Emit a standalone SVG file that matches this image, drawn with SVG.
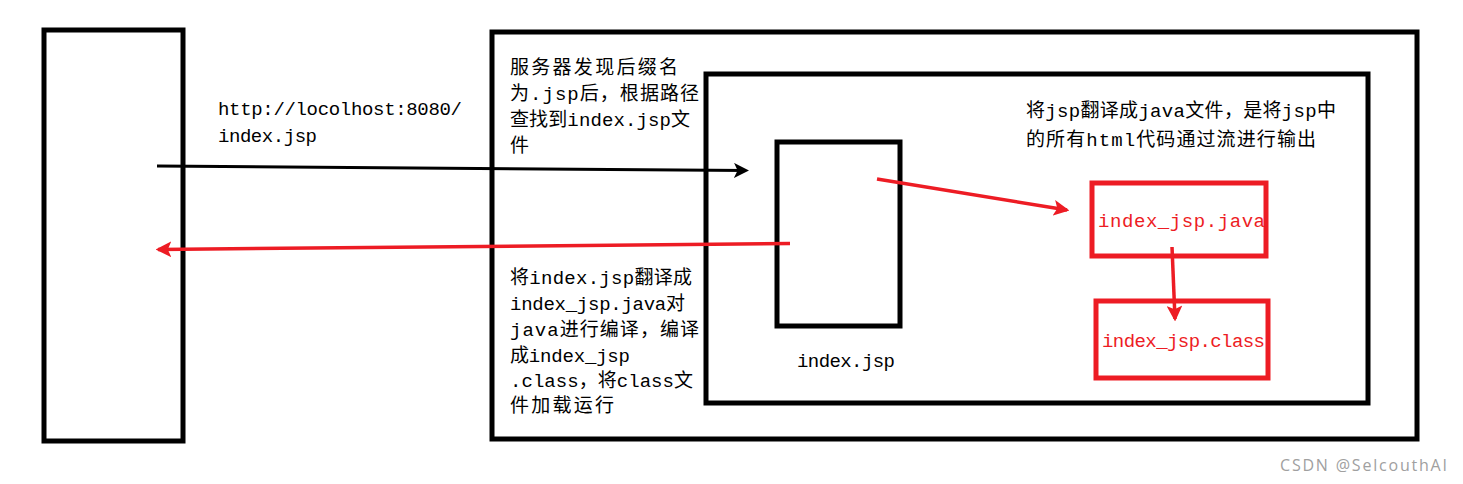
<svg xmlns="http://www.w3.org/2000/svg" width="1463" height="484" viewBox="0 0 1463 484">
<style>
.box{fill:none;stroke:#000;stroke-width:5}
.rbox{fill:none;stroke:#ed1c24;stroke-width:5}
.t{font-family:"Liberation Mono","Noto Sans CJK SC",monospace;font-size:19px;fill:#000}
.r{fill:#ed1c24}
.wm{font-family:"Open Sans","Noto Sans",sans-serif;font-size:16px;fill:#a0a0a0}
</style>
<defs>
<marker id="ab" markerWidth="5" markerHeight="5" refX="4" refY="2.5" orient="auto" markerUnits="strokeWidth">
<path d="M0,0 L5,2.5 L0,5 L1.2,2.5 Z" fill="#000"/>
</marker>
<marker id="ar" markerWidth="4.5" markerHeight="4.5" refX="3.8" refY="2.25" orient="auto" markerUnits="strokeWidth">
<path d="M0,0 L4.5,2.25 L0,4.5 L1,2.25 Z" fill="#ed1c24"/>
</marker>
</defs>
<rect width="1463" height="484" fill="#fff"/>
<g id="browser"><rect class="box" x="44" y="30" width="139" height="411"/></g>
<g id="server">
<rect class="box" x="492" y="32" width="925" height="407"/>
<text class="t" x="510" y="74" textLength="168">服务器发现后缀名</text>
<text class="t" x="510" y="100" textLength="189">为.jsp后，根据路径</text>
<text class="t" x="510" y="126" textLength="180">查找到index.jsp文</text>
<text class="t" x="510" y="152">件</text>
<text class="t" x="510" y="284" textLength="182">将index.jsp翻译成</text>
<text class="t" x="510" y="310" textLength="175">index_jsp.java对</text>
<text class="t" x="510" y="336" textLength="189">java进行编译，编译</text>
<text class="t" x="510" y="362" textLength="120">成index_jsp</text>
<text class="t" x="510" y="387" textLength="183">.class，将class文</text>
<text class="t" x="510" y="412" textLength="104">件加载运行</text>
</g>
<g id="container">
<rect class="box" x="706" y="74" width="662" height="329"/>
<text class="t" x="1026" y="117" textLength="310">将jsp翻译成java文件，是将jsp中</text>
<text class="t" x="1026" y="146" textLength="290">的所有html代码通过流进行输出</text>
</g>
<g id="indexjsp">
<rect class="box" x="777" y="142" width="123" height="184"/>
<text class="t" x="797" y="367" textLength="98">index.jsp</text>
</g>
<g id="javafile">
<rect class="rbox" x="1092" y="183" width="174" height="73"/>
<text class="t r" x="1098" y="227" textLength="167">index_jsp.java</text>
</g>
<g id="classfile">
<rect class="rbox" x="1096" y="301" width="172" height="77"/>
<text class="t r" x="1102" y="347" textLength="163">index_jsp.class</text>
</g>
<g id="request-label">
<text class="t" x="218" y="115" textLength="244">http://locolhost:8080/</text>
<text class="t" x="218" y="142" textLength="99">index.jsp</text>
</g>
<g id="connectors">
<line x1="157" y1="166" x2="746" y2="170.5" stroke="#000" stroke-width="3" marker-end="url(#ab)"/>
<line x1="790" y1="243.5" x2="158" y2="249.5" stroke="#ed1c24" stroke-width="3.5" marker-end="url(#ar)"/>
<line x1="877" y1="179" x2="1067" y2="210" stroke="#ed1c24" stroke-width="3.5" marker-end="url(#ar)"/>
<line x1="1172" y1="247" x2="1175" y2="319" stroke="#ed1c24" stroke-width="3.5" marker-end="url(#ar)"/>
</g>
<text class="wm" x="1280" y="471" textLength="167">CSDN @SelcouthAI</text>
</svg>
